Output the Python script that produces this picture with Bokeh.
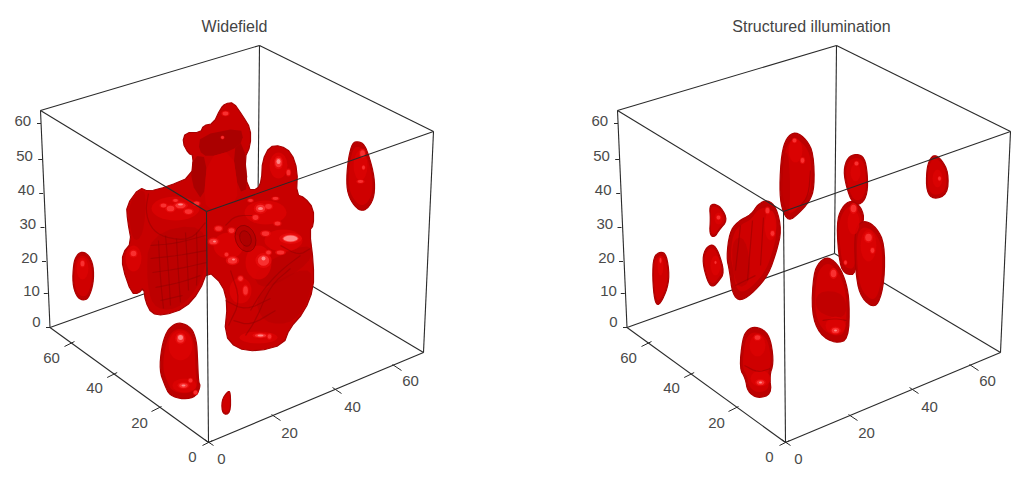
from bokeh.plotting import figure
from bokeh.models import Range1d, ColumnDataSource
from bokeh.core.properties import value
from bokeh.embed import file_html
from bokeh.resources import INLINE

# Panel titles and tick labels
TITLES = ["Widefield", "Structured illumination"]
Z_TICKS = ["0", "10", "20", "30", "40", "50", "60"]
XY_TICKS = ["0", "20", "40", "60"]

# Box corners
C_TL, C_BL = (40, 110), (49.5, 327)
C_FT, C_FB = (206, 211), (208, 442)
C_RT, C_RB = (433, 131), (423, 352)
C_KT, C_KB = (259, 45), (257, 253)
PANEL_SHIFT = 577

# Tick positions on the edges and their label positions
Z_POS = [(49.5, 327), (47.3, 293), (45.5, 261), (44, 227), (42.7, 193), (41.7, 159), (40.5, 123)]
Z_LAB = [(36, 321), (31, 290), (29, 257), (27.3, 223), (25.7, 189), (24, 155), (22.3, 120)]
YL_POS = [(208, 442), (157, 408), (112.7, 374), (70, 343)]
YL_LAB = [(192, 456), (139, 422), (94, 387), (51, 357)]
XR_POS = [(208, 442), (275, 417), (336, 390), (396, 367)]
XR_LAB = [(221, 458), (289, 432), (352, 406), (410, 380)]

# Left panel surfaces (outlines)
L_MAIN = [(225,103),(233,102),(242,115),(250,128),(250,145),(244,158),(247,189),(257,189),(261,180),(262,160),
          (269,146),(280,145),(291,152),(297,170),(296,194),(304,197),(313,208),(313,225),(309,230),(313,263),
          (313,288),(304,311),(289,328),(283,344),(257,351),(236,348),(224,334),(227,303),(222,284),(207,270),
          (199,291),(184,308),(163,315),(151,313),(145,301),(143,287),(138,293),(131,293),(122,267),(122,253),
          (131,242),(127,220),(126,205),(139,187),(148,191),(167,186),(191,176),(193,155),(188,153),(182,142),
          (185,132),(200,132),(203,125),(213,123),(220,108)]
L_A = [(81,251),(88,254),(93,265),(93,283),(88,298),(82,300),(76,296),(72,283),(73,263),(76,255)]
L_B = [(180,322),(191,327),(196,340),(197,357),(198,382),(200,385),(196,396),(183,399),(169,395),(164,384),
       (159,370),(161,347),(166,331),(173,324)]
L_C = [(227,391),(230,391),(230,413),(222,414),(221,400)]
L_D = [(358,141),(364,144),(369,157),(374,177),(374,195),(369,206),(362,211),(354,206),(347,193),(346,177),
       (348,157),(352,142)]

# Right panel surfaces (outlines)
R_A = [(660,251),(666,254),(669,275),(666,291),(658,306),(654,300),(652,277),(653,256)]
R_B = [(712,243),(718,251),(724,272),(718,281),(712,287),(707,281),(702,262),(704,249)]
R_C = [(713,203),(721,207),(727,220),(719,229),(714,237),(709,234),(710,218),(709,206)]
R_D = [(767,199),(776,207),(781,230),(776,251),(768,274),(754,291),(740,301),(732,294),(729,270),(726,257),
       (729,232),(737,221),(751,214),(757,204)]
R_E = [(795,131),(806,139),(813,153),(814,187),(809,201),(798,213),(788,221),(781,208),(779,187),(781,153),(786,137)]
R_F = [(856,153),(864,157),(867,173),(867,193),(861,204),(852,203),(846,187),(843,170),(847,157)]
R_G = [(934,154),(941,159),(948,172),(947,194),(933,199),(926,191),(926,170),(929,159)]
R_H = [(851,199),(861,207),(864,220),(856,237),(856,274),(845,274),(839,264),(836,223),(841,207)]
R_I = [(828,256),(839,266),(846,283),(849,303),(848,339),(835,343),(819,334),(811,312),(813,273),(819,261)]
R_J = [(865,220),(876,227),(884,243),(884,280),(878,304),(870,306),(859,294),(855,270),(854,237),(857,224)]
R_K = [(755,326),(766,331),(771,343),(773,363),(769,375),(771,394),(757,398),(747,391),(745,378),(739,368),
       (742,338),(747,329)]

# Shaded facets
DARK_FACET = [
    [(193,155),(207,157),(203,202),(190,182)],
    [(232,150),(243,140),(248,188),(238,192)],
    [(200,135),(240,127),(243,140),(232,150),(207,157),(198,150)],
]
SHADE = [
    [(148,233),(205,222),(207,270),(183,307),(155,310),(146,285)],
    [(253,293),(310,263),(312,290),(295,323),(262,323)],
    [(127,205),(140,188),(146,194),(143,235),(132,242)],
    [(781,155),(788,150),(790,190),(788,218),(782,205)],
    [(816,290),(845,292),(846,320),(815,312)],
    [(730,240),(745,235),(752,280),(735,290)],
    [(250,270),(310,240),(312,262),(262,292)],
]
TOWER_FACE = [[(207,157),(232,150),(238,192),(233,203),(212,210),(203,202)]]
RIDGES = [
    [(148,193),(145,210),(150,227),(163,237),(190,240),(205,222)],
    [(150,245),(175,243),(205,235)], [(150,258),(178,255),(206,250)],
    [(152,272),(180,268),(206,262)], [(155,287),(180,282),(200,275)],
    [(160,300),(182,295)], [(165,235),(168,270),(170,305)], [(185,232),(187,265),(188,290)],
    [(158,240),(160,280),(163,308)], [(176,238),(178,275),(180,302)], [(196,232),(197,262),(196,285)],
    [(300,255),(280,270),(262,290),(250,310)], [(225,300),(245,310),(270,298)],
    [(290,268),(270,285),(255,320),(245,335)], [(233,320),(250,325),(275,310)],
    [(225,225),(235,215),(255,215)], [(280,245),(298,255),(310,248)], [(230,270),(240,300),(228,325)],
    [(740,225),(735,270)], [(752,220),(747,280)], [(763,217),(760,265)], [(735,285),(755,275)],
    [(822,320),(835,318),(846,320)], [(744,365),(757,372),(770,368)], [(800,205),(808,195),(810,170)],
]
RINGS_X, RINGS_Y, RINGS_W, RINGS_H = [245, 245], [238, 238], [20, 11], [27, 16]

# Broad lit areas: x, y, width, height
LUMP = [(175,208,48,24),(265,212,42,24),(283,240,38,22),(228,245,30,26),(258,262,26,34),(240,290,22,26),
        (258,337,38,12),(278,165,18,26),(180,345,24,30),(184,385,24,14),(133,258,16,26),(82,268,12,22),
        (360,165,14,30),(835,325,20,18),(868,245,16,32),(853,222,12,24),(760,378,20,16),(757,345,16,22),
        (795,150,14,24),(770,225,12,30),(718,218,8,12),(855,172,10,18),(937,178,10,18),(715,265,10,20),
        (660,265,6,20)]
# Highlights: x, y, width, height
GLOW = [(180,205,11,6),(170,208,8,6),(188,211,8,5),(163,205,6,4),(196,203,6,4),(175,200,5,3),(260,208,10,8),(268,206,7,5),
        (255,217,6,5),(290,238,17,8),(265,233,8,5),(263,260,12,11),(268,252,5,4),(232,260,10,7),(226,254,4,4),(213,241,9,6),(218,228,7,5),
        (245,290,5,9),(260,335,12,4),(269,336,4,5),(280,252,8,4),(277,223,6,4),(278,162,7,10),(288,172,4,6),
        (225,113,6,4),(180,338,8,9),(183,385,9,5),(190,380,4,4),(82,263,4,6),(133,253,6,6),(362,153,5,7),
        (360,181,6,3),(363,167,3,4),(231,230,6,5),(240,278,5,5),(195,392,4,4),(250,200,5,3),(275,198,6,3),(222,137,3,3),
        (835,330,8,6),(833,273,6,8),(868,237,7,8),(872,250,4,5),(853,208,6,8),(802,160,4,5),(856,163,4,4),
        (939,178,3,4),(772,233,4,5),(767,210,4,6),(718,217,4,4),(760,382,8,5),(757,337,6,5),(660,260,2,5),
        (794,140,4,4),(845,262,3,4),(715,262,2,3)]
SPARK = [(180,204,5,2),(260,208,5,3),(290,238,14,6),(263,258,4,4),(233,259,3,2),(214,241,3,2),(278,161,4,5),
         (180,337,5,5),(183,385,4,2),(260,335,6,2),(835,330,3,2),(760,382,3,2)]

RIGHT_SURFACES = [R_A, R_B, R_C, R_D, R_E, R_F, R_G, R_H, R_I, R_J, R_K]

p = figure(width=1016, height=471, output_backend="svg", toolbar_location=None,
           x_range=Range1d(0, 1016), y_range=Range1d(471, 0), min_border=0)
p.axis.visible = False
p.grid.visible = False
p.outline_line_color = None
p.background_fill_color = "#ffffff"
p.border_fill_color = "#ffffff"

LINE = "#2a2a2a"
TEXT = "#4a4a4a"
FONT = value("Liberation Sans")


def rounded(points, rounds=2):
    """Corner-cut an outline so that it draws as a smooth closed curve."""
    pts = list(points)
    for _ in range(rounds):
        out = []
        for i, a in enumerate(pts):
            b = pts[(i + 1) % len(pts)]
            out.append((0.75 * a[0] + 0.25 * b[0], 0.75 * a[1] + 0.25 * b[1]))
            out.append((0.25 * a[0] + 0.75 * b[0], 0.25 * a[1] + 0.75 * b[1]))
        pts = out
    return pts


def rounded_open(points, rounds=2):
    pts = list(points)
    for _ in range(rounds):
        out = [pts[0]]
        for a, b in zip(pts[:-1], pts[1:]):
            out.append((0.75 * a[0] + 0.25 * b[0], 0.75 * a[1] + 0.25 * b[1]))
            out.append((0.25 * a[0] + 0.75 * b[0], 0.25 * a[1] + 0.75 * b[1]))
        out.append(pts[-1])
        pts = out
    return pts


def inset(points, k):
    cx = sum(q[0] for q in points) / len(points)
    cy = sum(q[1] for q in points) / len(points)
    return [(cx + (q[0] - cx) * k, cy + (q[1] - cy) * k) for q in points]


def seg(points, shift, alpha=1.0, color=LINE, width=1.1):
    p.line([q[0] + shift for q in points], [q[1] for q in points],
           line_color=color, line_width=width, line_alpha=alpha)


def frame_back(shift):
    for pair in [(C_TL, C_BL), (C_TL, C_KT), (C_KT, C_RT), (C_RT, C_RB), (C_KT, C_KB), (C_BL, C_KB), (C_KB, C_RB),
                 (C_BL, C_FB), (C_FB, C_RB)]:
        seg(pair, shift)


def frame_front(shift):
    for pair in [(C_TL, C_FT), (C_FT, C_RT), (C_FT, C_FB)]:
        seg(pair, shift)


def label(lx, ly, t, shift):
    p.text([lx + shift], [ly], text=[t], text_font=FONT, text_font_size="15px", text_color=TEXT,
           text_align="center", text_baseline="middle")


def labels(shift):
    for (x, y), (lx, ly), t in zip(Z_POS, Z_LAB, Z_TICKS):
        seg([(x - 4, y), (x, y)], shift, width=1)
        label(lx, ly, t, shift)
    for (x, y), (lx, ly), t in zip(YL_POS, YL_LAB, XY_TICKS):
        seg([(x - 6, y + 3), (x + 4, y - 2)], shift, width=1)
        label(lx, ly, t, shift)
    for (x, y), (lx, ly), t in zip(XR_POS, XR_LAB, XY_TICKS):
        seg([(x - 4, y - 3), (x + 5, y + 3)], shift, width=1)
        label(lx, ly, t, shift)


def polys(groups, fill, alpha=1.0, edge=None, edge_width=1.0):
    p.patches([[q[0] for q in g] for g in groups], [[q[1] for q in g] for g in groups],
              fill_color=fill, fill_alpha=alpha, line_color=edge if edge else None,
              line_alpha=alpha, line_width=edge_width)


def blobs(rows, fill, alpha, k=1.0):
    src = ColumnDataSource(dict(x=[g[0] for g in rows], y=[g[1] for g in rows],
                                w=[g[2] * k for g in rows], h=[g[3] * k for g in rows]))
    p.ellipse("x", "y", width="w", height="h", source=src, fill_color=fill, fill_alpha=alpha, line_color=None)


for s in (0, PANEL_SHIFT):
    frame_back(s)
    labels(s)

p.text([234, 811], [26, 26], text=TITLES, text_font=FONT, text_font_size="16px",
       text_color="#444444", text_align="center", text_baseline="middle")

# Surfaces, drawn over the rear edges; each is layered from rim to centre
polys([rounded(L_MAIN, 1)], "#c80000", edge="#a80000", edge_width=1.2)
for surf in [L_A, L_B, L_C, L_D] + RIGHT_SURFACES:
    r = rounded(surf, 2)
    polys([r], "#bc0000", edge="#ac0000", edge_width=1.2)
    polys([inset(r, 0.85)], "#cf0000")
polys([rounded(g, 2) for g in SHADE], "#b00000", alpha=0.45)
polys([rounded(g, 1) for g in DARK_FACET], "#a40000", alpha=0.85)
polys([rounded(g, 1) for g in TOWER_FACE], "#d00000")
blobs(LUMP, "#dc0202", 0.8)
smooth_ridges = [rounded_open(r, 2) for r in RIDGES]
p.multi_line([[q[0] for q in r] for r in smooth_ridges], [[q[1] for q in r] for r in smooth_ridges],
             line_color="#8f0000", line_width=1.2, line_alpha=0.5)
p.ellipse(RINGS_X, RINGS_Y, width=RINGS_W, height=RINGS_H, angle=0.35, fill_color="#a00000", fill_alpha=0.4,
          line_color="#7a0000", line_alpha=0.6, line_width=1)

blobs(GLOW, "#e80c0c", 0.8, 1.35)
blobs(GLOW, "#fb3434", 0.9, 0.95)
blobs(SPARK, "#ff8c8c", 0.95)

for s in (0, PANEL_SHIFT):
    frame_front(s)

open("out.html", "w").write(file_html(p, INLINE))
